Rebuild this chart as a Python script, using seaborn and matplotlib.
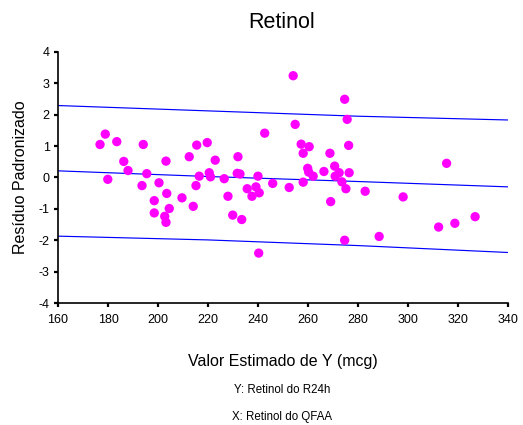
import matplotlib
matplotlib.use("Agg")
import matplotlib.pyplot as plt
import seaborn as sns
import pandas as pd

# fitted value (x) and standardized residual (y) for each subject
valor_estimado = [
    176.8, 178.9, 183.5, 194.1, 186.3, 188.0, 179.9, 193.6, 195.5, 198.5,
    198.5, 200.4, 203.2, 203.5, 204.5, 202.7, 203.2, 209.6, 214.1, 212.5,
    215.5, 219.7, 222.9, 232.0, 216.5, 215.2, 220.5, 221.0, 226.5, 228.0,
    231.7, 232.8, 229.9, 233.5, 235.7, 237.6, 239.2, 240.0, 240.5, 240.3,
    254.1, 274.7, 242.7, 254.9, 275.7, 257.3, 260.5, 258.1, 268.8, 276.3,
    259.9, 260.3, 262.1, 266.4, 270.7, 270.9, 272.5, 276.5, 273.6, 275.2,
    269.1, 274.7, 245.9, 252.5, 258.1, 315.5, 282.9, 298.1, 312.3, 318.8,
    326.9, 288.5,
]
residuo = [
    1.05, 1.38, 1.14, 1.05, 0.51, 0.22, -0.06, -0.26, 0.12, -0.74,
    -1.13, -0.17, 0.52, -0.51, -0.99, -1.24, -1.43, -0.65, -0.92, 0.66,
    1.03, 1.11, 0.55, 0.66, 0.04, -0.26, 0.15, 0.02, -0.04, -0.60,
    0.13, 0.11, -1.20, -1.34, -0.36, -0.60, -0.30, 0.04, -0.49, -2.41,
    3.24, 2.49, 1.41, 1.69, 1.85, 1.06, 0.98, 0.77, 0.77, 1.02,
    0.29, 0.17, 0.04, 0.19, 0.36, 0.04, 0.15, 0.15, -0.14, -0.36,
    -0.77, -2.00, -0.19, -0.32, -0.15, 0.45, -0.44, -0.62, -1.58, -1.46,
    -1.25, -1.88,
]

# trend line and limits across the x range
linha_x = [160, 220, 280, 340]
linha_centro = [0.21, 0.03, -0.13, -0.30]
linha_sup = [2.29, 2.12, 1.95, 1.83]
linha_inf = [-1.87, -1.99, -2.17, -2.39]

x_ticks = [160, 180, 200, 220, 240, 260, 280, 300, 320, 340]
y_ticks = [-4, -3, -2, -1, 0, 1, 2, 3, 4]

sns.set_style("white")
plt.rcParams["font.family"] = ["Liberation Sans", "DejaVu Sans"]
plt.rcParams["axes.unicode_minus"] = False
plt.rcParams["text.color"] = "black"
plt.rcParams["axes.labelcolor"] = "black"
plt.rcParams["xtick.color"] = "black"
plt.rcParams["ytick.color"] = "black"

pontos = pd.DataFrame({"x": valor_estimado, "y": residuo})
linhas = pd.DataFrame({"x": linha_x, "centro": linha_centro,
                       "sup": linha_sup, "inf": linha_inf})

fig = plt.figure(figsize=(5.23, 4.25), dpi=100)
ax = fig.add_axes([0.111, 0.287, 0.860, 0.591])

for col in ["sup", "centro", "inf"]:
    sns.lineplot(data=linhas, x="x", y=col, ax=ax, color="#0000FF",
                 linewidth=0.85, zorder=2)
sns.scatterplot(data=pontos, x="x", y="y", ax=ax, color="#FF00FF",
                s=45, edgecolor="none", zorder=3)

ax.set_xlim(160, 340)
ax.set_ylim(-4, 4)
ax.set_xticks(x_ticks)
ax.set_yticks(y_ticks)
ax.tick_params(axis="both", direction="out", length=3, width=1.6,
               labelsize=9, color="black", labelcolor="black",
               bottom=True, left=True)
ax.tick_params(axis="x", pad=5)
ax.tick_params(axis="y", pad=3)
sns.despine(ax=ax)
for side in ["left", "bottom"]:
    ax.spines[side].set_color("black")
    ax.spines[side].set_linewidth(1.2)

ax.set_xlabel("Valor Estimado de Y (mcg)", fontsize=11.5, labelpad=20,
              color="black")
ax.set_ylabel("Resíduo Padronizado", fontsize=11.5, labelpad=8,
              color="black")
fig.text(0.538, 0.948, "Retinol", fontsize=15.5, ha="center", va="center")
fig.text(0.54, 0.082, "Y: Retinol do R24h", fontsize=8.3, ha="center",
         va="center")
fig.text(0.54, 0.019, "X: Retinol do QFAA", fontsize=8.3, ha="center",
         va="center")

fig.savefig("out.png", dpi=100)
